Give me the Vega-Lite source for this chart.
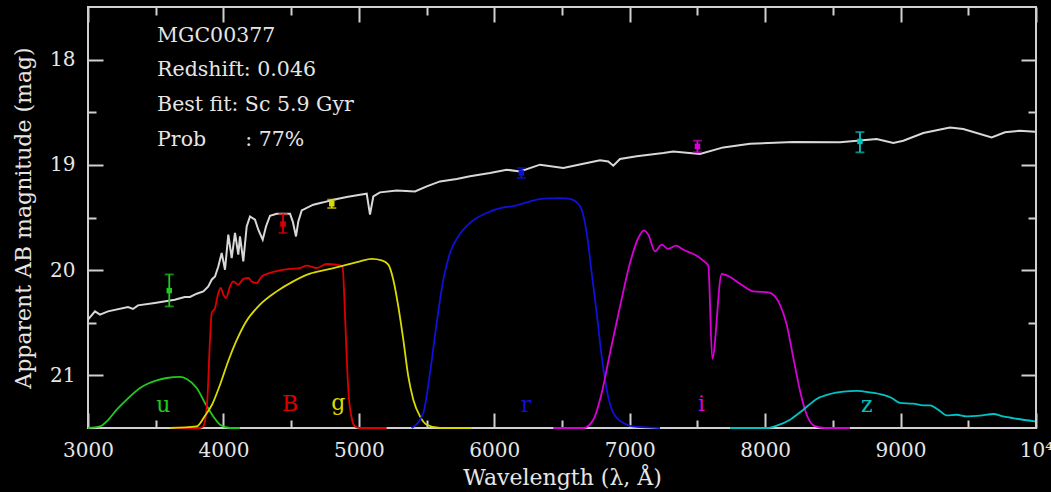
{
  "$schema": "https://vega.github.io/schema/vega-lite/v6.json",
  "width": 948,
  "height": 421,
  "autosize": {"type": "none"},
  "padding": {"left": 88, "top": 7, "right": 15, "bottom": 64},
  "background": "#000000",
  "config": {
    "view": {"stroke": "#d0d0d0", "strokeWidth": 2, "fill": "#000000"},
    "axis": {
      "domain": false,
      "grid": false,
      "tickColor": "#d0d0d0",
      "tickWidth": 2,
      "labelColor": "#e6e6e6",
      "titleColor": "#e6e6e6",
      "labelFont": "DejaVu Serif",
      "titleFont": "DejaVu Serif",
      "labelFontSize": 20,
      "titleFontSize": 22,
      "titleFontWeight": "normal",
      "labelFlush": false,
      "labelOverlap": false
    }
  },
  "datasets": {
    "spectrum": [
      {"x": 3000, "y": 20.471}, {"x": 3051.7, "y": 20.392}, {"x": 3088.6, "y": 20.423}, {"x": 3147.7, "y": 20.392},
      {"x": 3295.4, "y": 20.35}, {"x": 3332.3, "y": 20.369}, {"x": 3369.2, "y": 20.335}, {"x": 3492.5, "y": 20.312},
      {"x": 3640.2, "y": 20.281}, {"x": 3714, "y": 20.255}, {"x": 3753, "y": 20.255}, {"x": 3802.6, "y": 20.224},
      {"x": 3851.4, "y": 20.202}, {"x": 3888.3, "y": 20.155}, {"x": 3913.4, "y": 20.091}, {"x": 3937.8, "y": 20.06},
      {"x": 3962.1, "y": 19.965}, {"x": 3987.3, "y": 19.837}, {"x": 4011.6, "y": 19.996}, {"x": 4036, "y": 19.663},
      {"x": 4061.1, "y": 19.885}, {"x": 4085.5, "y": 19.647}, {"x": 4109.8, "y": 19.853}, {"x": 4122.4, "y": 19.68},
      {"x": 4146.7, "y": 19.917}, {"x": 4171.8, "y": 19.585}, {"x": 4196.2, "y": 19.49}, {"x": 4233.1, "y": 19.521},
      {"x": 4257.5, "y": 19.616}, {"x": 4290, "y": 19.711}, {"x": 4314.4, "y": 19.585}, {"x": 4343.9, "y": 19.483},
      {"x": 4393.4, "y": 19.464}, {"x": 4491.6, "y": 19.464}, {"x": 4511.6, "y": 19.537}, {"x": 4536, "y": 19.68},
      {"x": 4552.9, "y": 19.537}, {"x": 4578, "y": 19.432}, {"x": 4663.7, "y": 19.378}, {"x": 4737.5, "y": 19.356},
      {"x": 4811.3, "y": 19.331}, {"x": 4910.3, "y": 19.305}, {"x": 5008.4, "y": 19.283}, {"x": 5057.9, "y": 19.274},
      {"x": 5082.3, "y": 19.473}, {"x": 5106.7, "y": 19.3}, {"x": 5156.1, "y": 19.261}, {"x": 5279.5, "y": 19.243},
      {"x": 5414.6, "y": 19.252}, {"x": 5501, "y": 19.204}, {"x": 5599.2, "y": 19.157}, {"x": 5722.5, "y": 19.134},
      {"x": 5820.7, "y": 19.109}, {"x": 5968.4, "y": 19.077}, {"x": 6091.7, "y": 19.046}, {"x": 6189.9, "y": 19.062},
      {"x": 6337.6, "y": 18.998}, {"x": 6509.6, "y": 19.03}, {"x": 6657.3, "y": 18.989}, {"x": 6780.6, "y": 18.957},
      {"x": 6841.9, "y": 18.967}, {"x": 6878.8, "y": 19.008}, {"x": 6928.3, "y": 18.944}, {"x": 7051.6, "y": 18.919},
      {"x": 7248, "y": 18.887}, {"x": 7321.8, "y": 18.872}, {"x": 7518.9, "y": 18.897}, {"x": 7691, "y": 18.834},
      {"x": 7888.2, "y": 18.799}, {"x": 8208, "y": 18.783}, {"x": 8552.8, "y": 18.786}, {"x": 8823.7, "y": 18.754},
      {"x": 8946.3, "y": 18.792}, {"x": 9020.2, "y": 18.77}, {"x": 9167.8, "y": 18.697}, {"x": 9364.8, "y": 18.644},
      {"x": 9463, "y": 18.659}, {"x": 9672.8, "y": 18.739}, {"x": 9771, "y": 18.691}, {"x": 9881.8, "y": 18.675},
      {"x": 9992.5, "y": 18.685}
    ],
    "filters": [
      {"band": "u", "x": 3000, "y": 21.5}, {"band": "u", "x": 3088.6, "y": 21.485}, {"band": "u", "x": 3138, "y": 21.437},
      {"band": "u", "x": 3212, "y": 21.326}, {"band": "u", "x": 3285.8, "y": 21.231}, {"band": "u", "x": 3384, "y": 21.12},
      {"band": "u", "x": 3507.3, "y": 21.048}, {"band": "u", "x": 3581.1, "y": 21.025}, {"band": "u", "x": 3679.3, "y": 21.015},
      {"band": "u", "x": 3728.8, "y": 21.034}, {"band": "u", "x": 3802.6, "y": 21.12}, {"band": "u", "x": 3863.9, "y": 21.262},
      {"band": "u", "x": 3925.2, "y": 21.39}, {"band": "u", "x": 3974.7, "y": 21.468}, {"band": "u", "x": 4048.5, "y": 21.5},
      {"band": "u", "x": 4122.4, "y": 21.5},

      {"band": "B", "x": 3605.5, "y": 21.5}, {"band": "B", "x": 3827, "y": 21.5}, {"band": "B", "x": 3851.4, "y": 21.485},
      {"band": "B", "x": 3880.9, "y": 21.231}, {"band": "B", "x": 3900.8, "y": 20.661}, {"band": "B", "x": 3913.4, "y": 20.407},
      {"band": "B", "x": 3937.8, "y": 20.36}, {"band": "B", "x": 3962.1, "y": 20.217}, {"band": "B", "x": 3979.9, "y": 20.17},
      {"band": "B", "x": 3999.1, "y": 20.233}, {"band": "B", "x": 4019, "y": 20.265}, {"band": "B", "x": 4048.5, "y": 20.155},
      {"band": "B", "x": 4072.9, "y": 20.107}, {"band": "B", "x": 4109.8, "y": 20.138}, {"band": "B", "x": 4146.7, "y": 20.084},
      {"band": "B", "x": 4183.7, "y": 20.075}, {"band": "B", "x": 4208.8, "y": 20.107}, {"band": "B", "x": 4245.7, "y": 20.122},
      {"band": "B", "x": 4282.6, "y": 20.06}, {"band": "B", "x": 4343.9, "y": 20.027}, {"band": "B", "x": 4417.7, "y": 20.003},
      {"band": "B", "x": 4491.6, "y": 19.989}, {"band": "B", "x": 4565.4, "y": 19.98}, {"band": "B", "x": 4614.9, "y": 19.958},
      {"band": "B", "x": 4688.7, "y": 19.98}, {"band": "B", "x": 4762.5, "y": 19.942}, {"band": "B", "x": 4836.4, "y": 19.948},
      {"band": "B", "x": 4880.7, "y": 19.97}, {"band": "B", "x": 4890.3, "y": 20.186}, {"band": "B", "x": 4905.1, "y": 20.661},
      {"band": "B", "x": 4922.1, "y": 21.136}, {"band": "B", "x": 4947.2, "y": 21.405}, {"band": "B", "x": 4971.6, "y": 21.485},
      {"band": "B", "x": 5008.5, "y": 21.5}, {"band": "B", "x": 5205.6, "y": 21.5},

      {"band": "g", "x": 3605.5, "y": 21.5}, {"band": "g", "x": 3802.6, "y": 21.485}, {"band": "g", "x": 3863.9, "y": 21.383},
      {"band": "g", "x": 3915.6, "y": 21.279}, {"band": "g", "x": 3974.7, "y": 21.089}, {"band": "g", "x": 4033.8, "y": 20.87},
      {"band": "g", "x": 4092.8, "y": 20.68}, {"band": "g", "x": 4166.7, "y": 20.49}, {"band": "g", "x": 4270, "y": 20.328},
      {"band": "g", "x": 4393.4, "y": 20.202}, {"band": "g", "x": 4515.9, "y": 20.107}, {"band": "g", "x": 4639.2, "y": 20.034},
      {"band": "g", "x": 4762.5, "y": 19.996}, {"band": "g", "x": 4885.1, "y": 19.958}, {"band": "g", "x": 5008.5, "y": 19.917},
      {"band": "g", "x": 5094.8, "y": 19.894}, {"band": "g", "x": 5168.7, "y": 19.908}, {"band": "g", "x": 5217.4, "y": 19.948},
      {"band": "g", "x": 5254.3, "y": 20.091}, {"band": "g", "x": 5291.2, "y": 20.345}, {"band": "g", "x": 5328.2, "y": 20.661},
      {"band": "g", "x": 5365.1, "y": 21.01}, {"band": "g", "x": 5402, "y": 21.231}, {"band": "g", "x": 5451.5, "y": 21.39},
      {"band": "g", "x": 5501, "y": 21.469}, {"band": "g", "x": 5599.2, "y": 21.5}, {"band": "g", "x": 5833.3, "y": 21.5},

      {"band": "r", "x": 5390.3, "y": 21.5}, {"band": "r", "x": 5475.9, "y": 21.357}, {"band": "r", "x": 5525.3, "y": 20.977},
      {"band": "r", "x": 5574.8, "y": 20.502}, {"band": "r", "x": 5623.6, "y": 20.091}, {"band": "r", "x": 5673, "y": 19.837},
      {"band": "r", "x": 5734.3, "y": 19.68}, {"band": "r", "x": 5820.7, "y": 19.552}, {"band": "r", "x": 5944, "y": 19.457},
      {"band": "r", "x": 6066.6, "y": 19.404}, {"band": "r", "x": 6128.6, "y": 19.394}, {"band": "r", "x": 6239.3, "y": 19.356},
      {"band": "r", "x": 6361.9, "y": 19.321}, {"band": "r", "x": 6485.2, "y": 19.315}, {"band": "r", "x": 6559.1, "y": 19.324},
      {"band": "r", "x": 6608.5, "y": 19.356}, {"band": "r", "x": 6645.4, "y": 19.426}, {"band": "r", "x": 6682.4, "y": 19.647},
      {"band": "r", "x": 6719.3, "y": 20.027}, {"band": "r", "x": 6756.2, "y": 20.407}, {"band": "r", "x": 6793.1, "y": 20.82},
      {"band": "r", "x": 6830.1, "y": 21.136}, {"band": "r", "x": 6878.8, "y": 21.357}, {"band": "r", "x": 6952.7, "y": 21.452},
      {"band": "r", "x": 7051.6, "y": 21.49}, {"band": "r", "x": 7223.7, "y": 21.5},

      {"band": "i", "x": 6435.8, "y": 21.5}, {"band": "i", "x": 6657.3, "y": 21.5}, {"band": "i", "x": 6731.2, "y": 21.421},
      {"band": "i", "x": 6793.2, "y": 21.167}, {"band": "i", "x": 6854.5, "y": 20.787}, {"band": "i", "x": 6928.3, "y": 20.345},
      {"band": "i", "x": 7002.2, "y": 19.932}, {"band": "i", "x": 7063.4, "y": 19.695}, {"band": "i", "x": 7105.5, "y": 19.623},
      {"band": "i", "x": 7137.2, "y": 19.663}, {"band": "i", "x": 7186.7, "y": 19.822}, {"band": "i", "x": 7236.2, "y": 19.758},
      {"band": "i", "x": 7284.9, "y": 19.799}, {"band": "i", "x": 7341.8, "y": 19.768}, {"band": "i", "x": 7395.7, "y": 19.806},
      {"band": "i", "x": 7494.6, "y": 19.863}, {"band": "i", "x": 7543.4, "y": 19.91}, {"band": "i", "x": 7580.3, "y": 19.958},
      {"band": "i", "x": 7609.8, "y": 20.842}, {"band": "i", "x": 7679.2, "y": 20.037}, {"band": "i", "x": 7740.5, "y": 20.065},
      {"band": "i", "x": 7814.3, "y": 20.129}, {"band": "i", "x": 7912.5, "y": 20.202}, {"band": "i", "x": 8023.3, "y": 20.212},
      {"band": "i", "x": 8072.7, "y": 20.25}, {"band": "i", "x": 8109.7, "y": 20.329}, {"band": "i", "x": 8159.1, "y": 20.518},
      {"band": "i", "x": 8207.9, "y": 20.832}, {"band": "i", "x": 8257.4, "y": 21.146}, {"band": "i", "x": 8306.9, "y": 21.374},
      {"band": "i", "x": 8368.1, "y": 21.483}, {"band": "i", "x": 8442, "y": 21.5}, {"band": "i", "x": 8626.6, "y": 21.5},

      {"band": "z", "x": 7740.5, "y": 21.5}, {"band": "z", "x": 8011.5, "y": 21.5}, {"band": "z", "x": 8085.3, "y": 21.478},
      {"band": "z", "x": 8183.6, "y": 21.421}, {"band": "z", "x": 8281.8, "y": 21.326}, {"band": "z", "x": 8380.7, "y": 21.224},
      {"band": "z", "x": 8478.9, "y": 21.177}, {"band": "z", "x": 8577.1, "y": 21.155}, {"band": "z", "x": 8676, "y": 21.148},
      {"band": "z", "x": 8774.2, "y": 21.162}, {"band": "z", "x": 8872.4, "y": 21.186}, {"band": "z", "x": 8934.4, "y": 21.215},
      {"band": "z", "x": 8995.7, "y": 21.262}, {"band": "z", "x": 9093.9, "y": 21.269}, {"band": "z", "x": 9167.8, "y": 21.285},
      {"band": "z", "x": 9217.3, "y": 21.285}, {"band": "z", "x": 9278.6, "y": 21.326}, {"band": "z", "x": 9340.6, "y": 21.38},
      {"band": "z", "x": 9414.5, "y": 21.374}, {"band": "z", "x": 9488.3, "y": 21.39}, {"band": "z", "x": 9586.5, "y": 21.383},
      {"band": "z", "x": 9684.7, "y": 21.367}, {"band": "z", "x": 9758.6, "y": 21.39}, {"band": "z", "x": 9857.5, "y": 21.412},
      {"band": "z", "x": 9992.6, "y": 21.437}
    ],
    "phot": [
      {"band": "u", "x": 3600, "y": 20.195, "lo": 20.041, "hi": 20.345},
      {"band": "B", "x": 4440, "y": 19.562, "lo": 19.467, "hi": 19.647},
      {"band": "g", "x": 4800, "y": 19.369, "lo": 19.33, "hi": 19.41},
      {"band": "r", "x": 6200, "y": 19.077, "lo": 19.03, "hi": 19.125},
      {"band": "i", "x": 7500, "y": 18.824, "lo": 18.77, "hi": 18.88},
      {"band": "z", "x": 8700, "y": 18.777, "lo": 18.688, "hi": 18.881}
    ],
    "bandlabels": [
      {"band": "u", "x": 3556, "y": 21.28},
      {"band": "B", "x": 4492, "y": 21.27},
      {"band": "g", "x": 4848, "y": 21.26},
      {"band": "r", "x": 6234, "y": 21.28},
      {"band": "i", "x": 7531, "y": 21.27},
      {"band": "z", "x": 8750, "y": 21.28}
    ],
    "notes": [
      {"text": "MGC00377", "x": 3510, "y": 17.78},
      {"text": "Redshift: 0.046", "x": 3510, "y": 18.1},
      {"text": "Best fit: Sc 5.9 Gyr", "x": 3510, "y": 18.435},
      {"text": "Prob\u00a0\u00a0\u00a0\u00a0\u00a0\u00a0: 77%", "x": 3510, "y": 18.767}
    ]
  },
  "layer": [
    {
      "data": {"name": "spectrum"},
      "mark": {"type": "line", "color": "#d8d8d8", "strokeWidth": 2},
      "encoding": {
        "x": {"field": "x", "type": "quantitative", "scale": {"domain": [3000, 10000], "nice": false, "zero": false},
          "axis": {"orient": "bottom", "values": [3000, 4000, 5000, 6000, 7000, 8000, 9000, 10000], "tickSize": -15, "labelPadding": 27, "format": "d",
            "labelExpr": "datum.value == 10000 ? '10⁴' : datum.label", "title": "Wavelength (λ, Å)", "titlePadding": 7}},
        "y": {"field": "y", "type": "quantitative", "scale": {"domain": [17.5, 21.5], "reverse": true, "nice": false, "zero": false},
          "axis": {"orient": "left", "values": [18, 19, 20, 21], "tickSize": -15, "labelPadding": 28, "format": "d",
            "title": "Apparent AB magnitude (mag)", "titlePadding": 14}}
      }
    },
    {
      "data": {"name": "filters"},
      "mark": {"type": "line", "strokeWidth": 1.8, "interpolate": "monotone"},
      "encoding": {
        "x": {"field": "x", "type": "quantitative", "scale": {"domain": [3000, 10000], "nice": false, "zero": false},
          "axis": {"orient": "bottom", "values": [3500, 4500, 5500, 6500, 7500, 8500, 9500], "tickSize": -8, "labels": false, "title": null}},
        "y": {"field": "y", "type": "quantitative", "scale": {"domain": [17.5, 21.5], "reverse": true, "nice": false, "zero": false},
          "axis": {"orient": "left", "values": [18.5, 19.5, 20.5], "tickSize": -8, "labels": false, "title": null}},
        "color": {"field": "band", "type": "nominal", "legend": null,
          "scale": {"domain": ["u", "B", "g", "r", "i", "z"], "range": ["#22c822", "#dd0000", "#dada00", "#1010d8", "#d800d8", "#00c4c4"]}}
      }
    },
    {
      "data": {"name": "phot"},
      "mark": {"type": "rule", "strokeWidth": 1.8},
      "encoding": {
        "x": {"field": "x", "type": "quantitative", "scale": {"domain": [3000, 10000], "nice": false, "zero": false},
          "axis": {"orient": "top", "values": [3000, 4000, 5000, 6000, 7000, 8000, 9000, 10000], "tickSize": -15, "labels": false, "title": null}},
        "y": {"field": "lo", "type": "quantitative", "scale": {"domain": [17.5, 21.5], "reverse": true, "nice": false, "zero": false},
          "axis": {"orient": "right", "values": [18, 19, 20, 21], "tickSize": -15, "labels": false, "title": null}},
        "y2": {"field": "hi"},
        "color": {"field": "band", "type": "nominal", "legend": null,
          "scale": {"domain": ["u", "B", "g", "r", "i", "z"], "range": ["#22c822", "#dd0000", "#dada00", "#1010d8", "#d800d8", "#00c4c4"]}}
      }
    },
    {
      "data": {"name": "phot"},
      "mark": {"type": "tick", "orient": "horizontal", "size": 9, "thickness": 1.8},
      "encoding": {
        "x": {"field": "x", "type": "quantitative", "scale": {"domain": [3000, 10000], "nice": false, "zero": false},
          "axis": {"orient": "top", "values": [3500, 4500, 5500, 6500, 7500, 8500, 9500], "tickSize": -8, "labels": false, "title": null}},
        "y": {"field": "lo", "type": "quantitative", "scale": {"domain": [17.5, 21.5], "reverse": true, "nice": false, "zero": false},
          "axis": {"orient": "right", "values": [18.5, 19.5, 20.5], "tickSize": -8, "labels": false, "title": null}},
        "color": {"field": "band", "type": "nominal", "legend": null,
          "scale": {"domain": ["u", "B", "g", "r", "i", "z"], "range": ["#22c822", "#dd0000", "#dada00", "#1010d8", "#d800d8", "#00c4c4"]}}
      }
    },
    {
      "data": {"name": "phot"},
      "mark": {"type": "tick", "orient": "horizontal", "size": 9, "thickness": 1.8},
      "encoding": {
        "x": {"field": "x", "type": "quantitative", "scale": {"domain": [3000, 10000], "nice": false, "zero": false}, "axis": null},
        "y": {"field": "hi", "type": "quantitative", "scale": {"domain": [17.5, 21.5], "reverse": true, "nice": false, "zero": false}, "axis": null},
        "color": {"field": "band", "type": "nominal", "legend": null,
          "scale": {"domain": ["u", "B", "g", "r", "i", "z"], "range": ["#22c822", "#dd0000", "#dada00", "#1010d8", "#d800d8", "#00c4c4"]}}
      }
    },
    {
      "data": {"name": "phot"},
      "mark": {"type": "point", "shape": "square", "filled": true, "size": 30, "opacity": 1},
      "encoding": {
        "x": {"field": "x", "type": "quantitative", "scale": {"domain": [3000, 10000], "nice": false, "zero": false}, "axis": null},
        "y": {"field": "y", "type": "quantitative", "scale": {"domain": [17.5, 21.5], "reverse": true, "nice": false, "zero": false}, "axis": null},
        "color": {"field": "band", "type": "nominal", "legend": null,
          "scale": {"domain": ["u", "B", "g", "r", "i", "z"], "range": ["#22c822", "#dd0000", "#dada00", "#1010d8", "#d800d8", "#00c4c4"]}}
      }
    },
    {
      "data": {"name": "bandlabels"},
      "mark": {"type": "text", "font": "DejaVu Serif", "fontSize": 22, "align": "center", "baseline": "middle"},
      "encoding": {
        "x": {"field": "x", "type": "quantitative", "scale": {"domain": [3000, 10000], "nice": false, "zero": false}, "axis": null},
        "y": {"field": "y", "type": "quantitative", "scale": {"domain": [17.5, 21.5], "reverse": true, "nice": false, "zero": false}, "axis": null},
        "text": {"field": "band"},
        "color": {"field": "band", "type": "nominal", "legend": null,
          "scale": {"domain": ["u", "B", "g", "r", "i", "z"], "range": ["#22c822", "#dd0000", "#dada00", "#1010d8", "#d800d8", "#00c4c4"]}}
      }
    },
    {
      "data": {"name": "notes"},
      "mark": {"type": "text", "font": "DejaVu Serif", "fontSize": 20.5, "align": "left", "baseline": "middle", "color": "#e6e6e6"},
      "encoding": {
        "x": {"field": "x", "type": "quantitative", "scale": {"domain": [3000, 10000], "nice": false, "zero": false}, "axis": null},
        "y": {"field": "y", "type": "quantitative", "scale": {"domain": [17.5, 21.5], "reverse": true, "nice": false, "zero": false}, "axis": null},
        "text": {"field": "text"}
      }
    }
  ],
  "resolve": {"axis": {"x": "independent", "y": "independent"}}
}
